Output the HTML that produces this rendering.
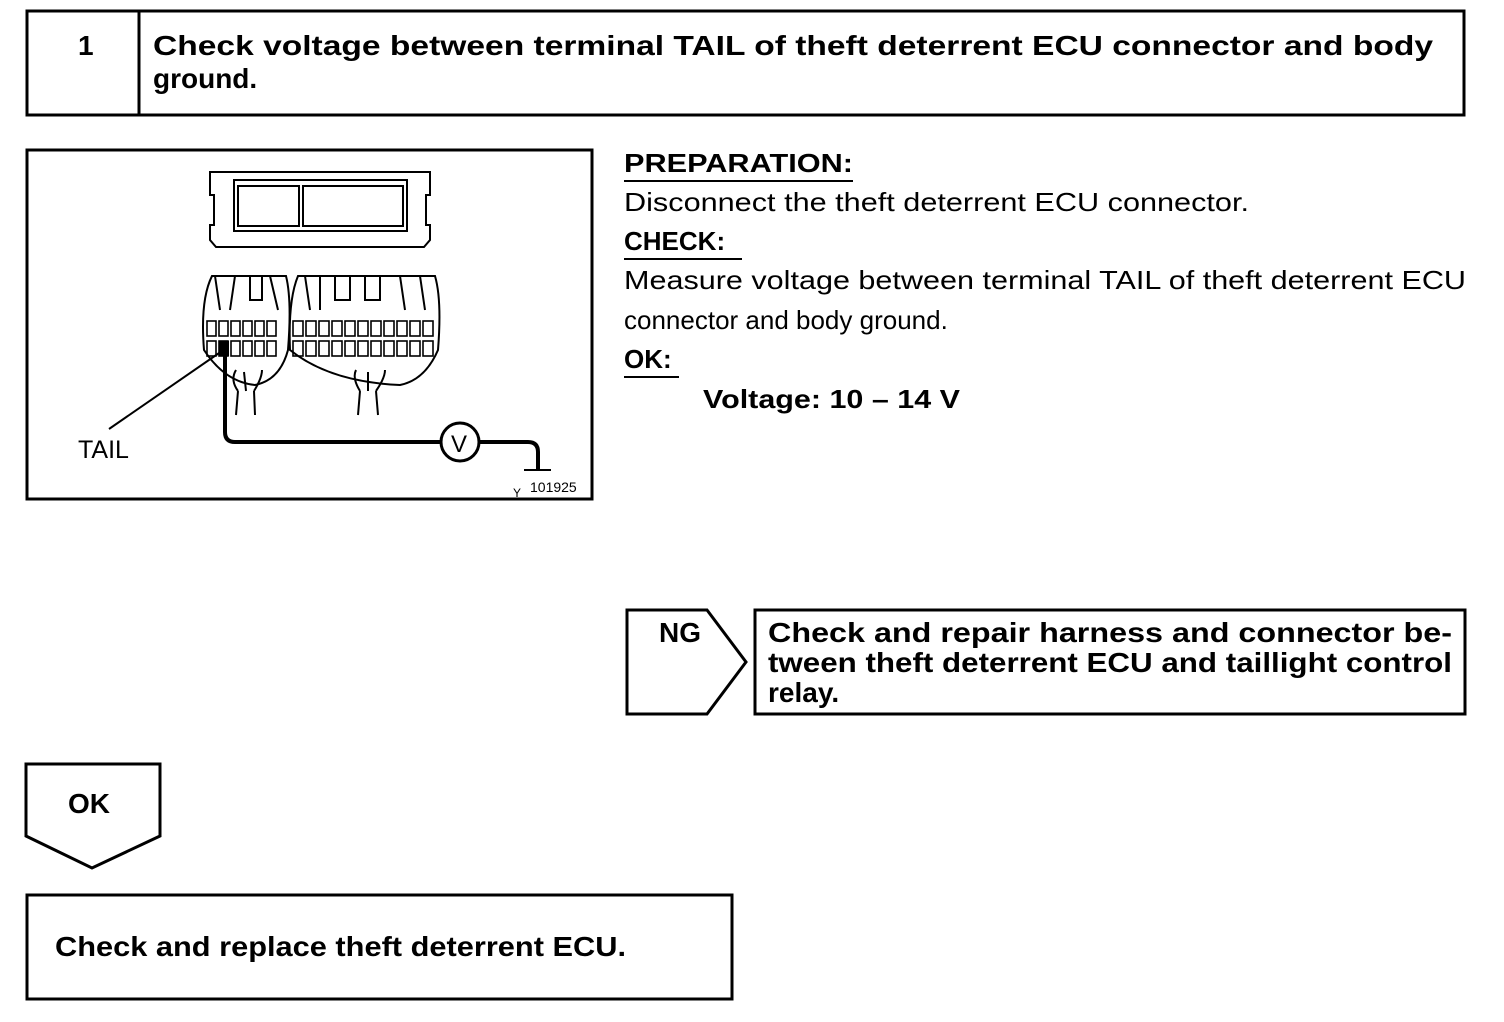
<!DOCTYPE html>
<html><head><meta charset="utf-8"><style>
html,body{margin:0;padding:0;background:#fff}
svg{display:block}
text{font-family:"Liberation Sans",Arial,sans-serif}
</style></head><body>
<svg width="1504" height="1022" viewBox="0 0 1504 1022" xmlns="http://www.w3.org/2000/svg">
<g fill="none" stroke="#000" stroke-width="3">
<rect x="27" y="11" width="1437" height="104"/>
<line x1="139" y1="11" x2="139" y2="115"/>
<rect x="27" y="150" width="565" height="349"/>
<path d="M627 610 H707 L746 662 L707 714 H627 Z"/>
<rect x="755" y="610" width="710" height="104"/>
<path d="M26 764 H160 V836 L92 868 L26 836 Z"/>
<rect x="27" y="895" width="705" height="104"/>
</g>
<g font-weight="bold" font-size="28">
<text x="78" y="55">1</text>
<text x="153" y="55" textLength="1280" lengthAdjust="spacingAndGlyphs">Check voltage between terminal TAIL of theft deterrent ECU connector and body</text>
<text x="153" y="88">ground.</text>
<text x="659" y="642">NG</text>
<text x="768" y="642" textLength="684" lengthAdjust="spacingAndGlyphs">Check and repair harness and connector be-</text>
<text x="768" y="672" textLength="684" lengthAdjust="spacingAndGlyphs">tween theft deterrent ECU and taillight control</text>
<text x="768" y="702">relay.</text>
<text x="68" y="813">OK</text>
<text x="55" y="956" textLength="571" lengthAdjust="spacingAndGlyphs">Check and replace theft deterrent ECU.</text>
<text x="624" y="172" font-size="26" textLength="229" lengthAdjust="spacingAndGlyphs">PREPARATION:</text>
<text x="624" y="250" font-size="26">CHECK:</text>
<text x="624" y="368" font-size="26">OK:</text>
<text x="703" y="408" font-size="26" textLength="257" lengthAdjust="spacingAndGlyphs">Voltage: 10 – 14 V</text>
</g>
<g font-size="26">
<text x="624" y="211" textLength="625" lengthAdjust="spacingAndGlyphs">Disconnect the theft deterrent ECU connector.</text>
<text x="624" y="289" textLength="842" lengthAdjust="spacingAndGlyphs">Measure voltage between terminal TAIL of theft deterrent ECU</text>
<text x="624" y="329">connector and body ground.</text>
</g>
<g stroke="#000" stroke-width="2">
<line x1="624" y1="181" x2="853" y2="181"/>
<line x1="624" y1="259" x2="742" y2="259"/>
<line x1="624" y1="377" x2="679" y2="377"/>
</g>
<!-- illustration -->
<g fill="none" stroke="#000" stroke-width="2">
<path d="M210 172 H430 V195 H426 V225 H430 V240 L424 247 H216 L210 240 V225 H214 V195 H210 Z"/>
<rect x="234" y="180" width="173" height="51"/>
<rect x="238" y="186" width="61" height="40"/>
<rect x="303" y="186" width="100" height="40"/>
<path d="M204 350 Q200 300 212 276 L286 276 Q292 300 288 350 Q280 380 255 385 Q225 382 204 350 Z"/>
<path d="M290 350 Q288 300 298 276 L435 276 Q442 300 438 350 Q425 380 400 385 Q330 382 290 350 Z"/>
<path d="M215 276 L220 310 M235 276 L230 310 M250 276 V300 H262 V276 M270 276 L278 310"/>
<path d="M305 276 L310 310 M320 276 V310 M335 276 V300 H350 V276 M365 276 V300 H380 V276 M400 276 L405 310 M420 276 L425 310"/>
<path d="M238 391 L236 415 M254 391 L255 415 M360 391 L358 415 M376 391 L378 415"/>
<path d="M238 391 Q230 380 236 370 M246 391 L244 372 M254 391 Q262 378 262 370 M360 391 Q352 378 356 370 M368 391 V372 M376 391 Q385 378 385 370"/>
</g>
<g fill="none" stroke="#000" stroke-width="1.6">
<g id="r">
<rect x="207" y="321" width="9" height="15"/><rect x="219" y="321" width="9" height="15"/><rect x="231" y="321" width="9" height="15"/><rect x="243" y="321" width="9" height="15"/><rect x="255" y="321" width="9" height="15"/><rect x="267" y="321" width="9" height="15"/>
</g>
<use href="#r" y="20"/>
<g id="r2">
<rect x="293" y="321" width="10" height="15"/><rect x="306" y="321" width="10" height="15"/><rect x="319" y="321" width="10" height="15"/><rect x="332" y="321" width="10" height="15"/><rect x="345" y="321" width="10" height="15"/><rect x="358" y="321" width="10" height="15"/><rect x="371" y="321" width="10" height="15"/><rect x="384" y="321" width="10" height="15"/><rect x="397" y="321" width="10" height="15"/><rect x="410" y="321" width="10" height="15"/><rect x="423" y="321" width="10" height="15"/>
</g>
<use href="#r2" y="20"/>
</g>
<rect x="219" y="341" width="10" height="15" fill="#000"/>
<g fill="none" stroke="#000" stroke-width="4">
<path d="M225 350 V432 Q225 442 235 442 H441"/>
<path d="M479 442 H528 Q538 442 538 452 V470"/>
</g>
<circle cx="460" cy="442" r="19" fill="#fff" stroke="#000" stroke-width="3"/>
<text x="451" y="452" font-size="24">V</text>
<line x1="524" y1="470" x2="551" y2="470" stroke="#000" stroke-width="2"/>
<line x1="109" y1="429" x2="222" y2="351" stroke="#000" stroke-width="2"/>
<text x="78" y="458" font-size="25">TAIL</text>
<text x="513" y="497" font-size="12">Y</text>
<text x="530" y="492" font-size="14">101925</text>
</svg>
</body></html>
